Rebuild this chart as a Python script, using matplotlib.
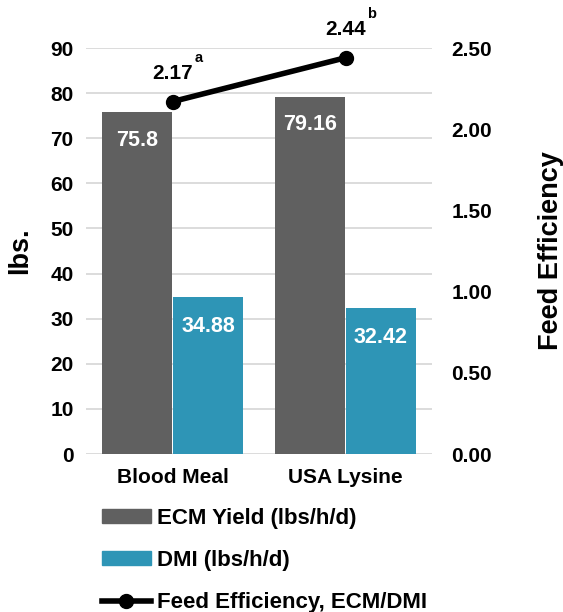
import numpy as np
import matplotlib.pyplot as plt
from matplotlib.lines import Line2D
from matplotlib.patches import Patch

plt.rcParams['font.family'] = ['Liberation Sans', 'DejaVu Sans']
plt.rcParams['font.weight'] = 'bold'

categories = ['Blood Meal', 'USA Lysine']
ecm_yield = [75.8, 79.16]
dmi = [34.88, 32.42]
feed_eff = [2.17, 2.44]
eff_letters = ['a', 'b']

gray = '#606060'
teal = '#2e95b6'
grid_col = '#d9d9d9'

fig = plt.figure(figsize=(5.63, 6.12), dpi=100)
ax = fig.add_axes([86/563, 1 - 454/612, 346/563, 406/612])
ax2 = ax.twinx()

x = np.arange(len(categories))
w = 0.4
b1 = ax.bar(x - 0.205, ecm_yield, w, color=gray, zorder=2)
b2 = ax.bar(x + 0.205, dmi, w, color=teal, zorder=2)

for rect, v in zip(b1, ecm_yield):
    ax.text(rect.get_x() + rect.get_width()/2, v - 6.2, f'{v:g}', ha='center', va='center',
            color='white', fontsize=15.5, fontweight='bold')
for rect, v in zip(b2, dmi):
    ax.text(rect.get_x() + rect.get_width()/2, v - 6.6, f'{v:g}', ha='center', va='center',
            color='white', fontsize=15.5, fontweight='bold')

ax.set_xlim(-0.5, 1.5)
ax.set_ylim(0, 90)
ax.set_yticks(range(0, 91, 10))
ax.yaxis.grid(True, color=grid_col, linewidth=1.3, zorder=0)
ax.set_axisbelow(True)
ax.set_xticks(x)
ax.set_xticklabels(categories, fontsize=15, fontweight='bold')
ax.tick_params(axis='both', length=0, labelsize=15)
ax.tick_params(axis='y', pad=9)
ax.tick_params(axis='x', pad=10)
for s in ax.spines.values():
    s.set_visible(False)
ax.set_ylabel('lbs.', fontsize=19.5, fontweight='bold')
ax.yaxis.set_label_coords(-0.153, 0.5)

ax2.plot(x, feed_eff, color='black', linewidth=4, marker='o', markersize=10, zorder=3)
ax2.set_ylim(0, 2.5)
ax2.set_yticks(np.arange(0, 2.51, 0.5))
ax2.set_yticklabels([f'{t:.2f}' for t in np.arange(0, 2.51, 0.5)])
ax2.tick_params(axis='y', length=0, labelsize=15, pad=14)
for s in ax2.spines.values():
    s.set_visible(False)
ax2.set_ylabel('Feed Efficiency', fontsize=19.5, fontweight='bold', rotation=90)
ax2.yaxis.set_label_coords(1.306, 0.5)

for xi, v, let in zip(x, feed_eff, eff_letters):
    ax2.annotate(f'{v:.2f}', (xi, v), xytext=(0, 16.5), textcoords='offset points',
                 ha='center', va='baseline', fontsize=15, fontweight='bold')
    ax2.annotate(let, (xi, v), xytext=(19, 28.5), textcoords='offset points',
                 ha='center', va='baseline', fontsize=10.5, fontweight='bold')

handles = [Patch(color=gray), Patch(color=teal),
           Line2D([], [], color='black', linewidth=4, marker='o', markersize=10)]
labels = ['ECM Yield (lbs/h/d)', 'DMI (lbs/h/d)', 'Feed Efficiency, ECM/DMI']
fig.legend(handles, labels, loc='upper left', bbox_to_anchor=(93/563, 1 - 499/612),
           frameon=False, fontsize=16, handlelength=2.2, handleheight=0.63,
           handletextpad=0.3, labelspacing=0.95, borderaxespad=0)

fig.savefig('out.png', dpi=100)
